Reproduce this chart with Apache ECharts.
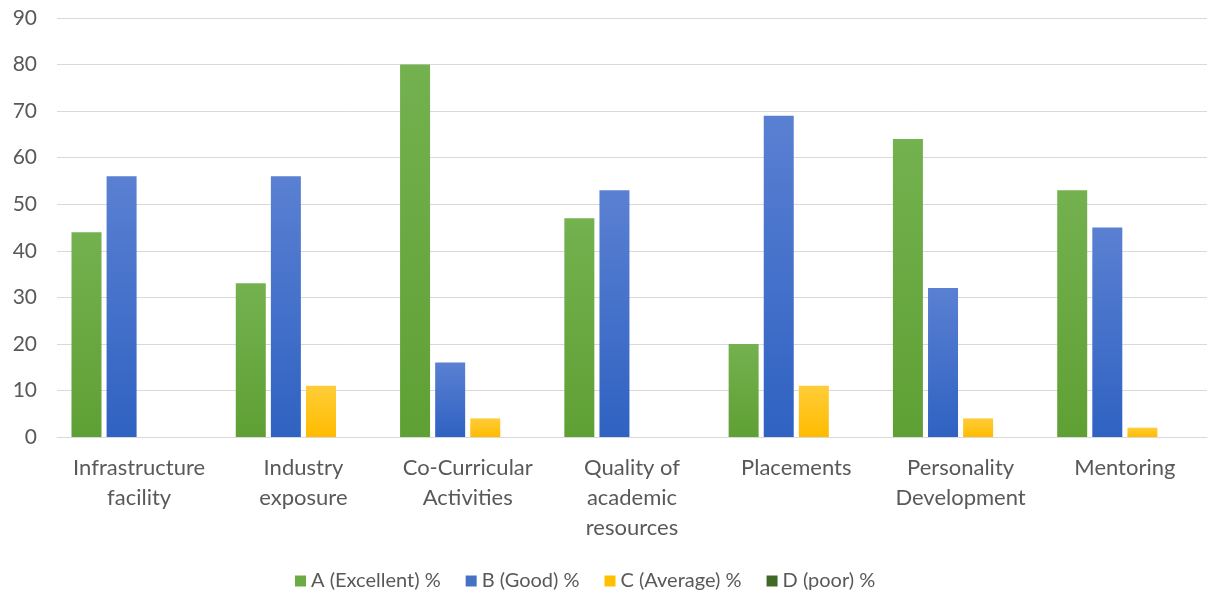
<!DOCTYPE html>
<html>
<head>
<meta charset="utf-8">
<style>
  html, body { margin: 0; padding: 0; background: #ffffff; }
  #chart { width: 1211px; height: 599px; }
</style>
<script src="https://cdn.jsdelivr.net/npm/echarts@6/dist/echarts.min.js"></script>
</head>
<body>
<div id="chart"></div>
<script>
// Feedback categories (x axis)
const categories = [
  'Infrastructure\nfacility',
  'Industry\nexposure',
  'Co-Curricular\nActivities',
  'Quality of\nacademic\nresources',
  'Placements',
  'Personality\nDevelopment',
  'Mentoring'
];

// Rating shares, percent
const excellent = [44, 33, 80, 47, 20, 64, 53];
const good      = [56, 56, 16, 53, 69, 32, 45];
const average   = [0, 11, 4, 0, 11, 4, 2];
const poor      = [0, 0, 0, 0, 0, 0, 0];

const seriesNames = ['A (Excellent) %', 'B (Good) %', 'C (Average) %', 'D (poor) %'];
const seriesData = [excellent, good, average, poor];

// Top / bottom shades of each bar fill
const shades = [
  ['#74b14f', '#5fa034'],
  ['#5a80d2', '#2f62c2'],
  ['#ffcd38', '#ffbb00'],
  ['#4a7530', '#375623']
];
const legendColors = ['#6aab43', '#4472c4', '#ffc000', '#3f6a26'];

const FONT = 'Lato, "Open Sans", sans-serif';
const TEXT = '#595959';

const chart = echarts.init(document.getElementById('chart'));

chart.setOption({
  backgroundColor: '#ffffff',
  animation: false,
  grid: { left: 57, right: 4, top: 18, bottom: 162, containLabel: false },
  legend: {
    left: 290,
    top: 566,
    itemWidth: 11,
    itemHeight: 11,
    itemGap: 25,
    icon: 'rect',
    textStyle: { fontFamily: FONT, fontSize: 20, color: TEXT },
    data: seriesNames.map((n, i) => ({ name: n, itemStyle: { color: legendColors[i] } }))
  },
  xAxis: {
    type: 'category',
    data: categories,
    axisLine: { lineStyle: { color: '#d9d9d9', width: 1 } },
    axisTick: { show: false },
    axisLabel: {
      interval: 0,
      margin: 16,
      fontFamily: FONT,
      fontSize: 22,
      lineHeight: 30,
      color: TEXT,
      align: 'center'
    }
  },
  yAxis: {
    type: 'value',
    min: 0,
    max: 90,
    interval: 10,
    axisLine: { show: false },
    axisTick: { show: false },
    splitLine: { lineStyle: { color: '#d9d9d9', width: 1 } },
    axisLabel: { margin: 20, fontFamily: FONT, fontSize: 21, color: TEXT }
  },
  series: seriesNames.map((name, i) => ({
    name: name,
    type: 'bar',
    data: seriesData[i],
    barWidth: 30,
    barGap: '17%',
    itemStyle: {
      color: new echarts.graphic.LinearGradient(0, 0, 0, 1, [
        { offset: 0, color: shades[i][0] },
        { offset: 1, color: shades[i][1] }
      ])
    }
  }))
});
</script>
</body>
</html>
